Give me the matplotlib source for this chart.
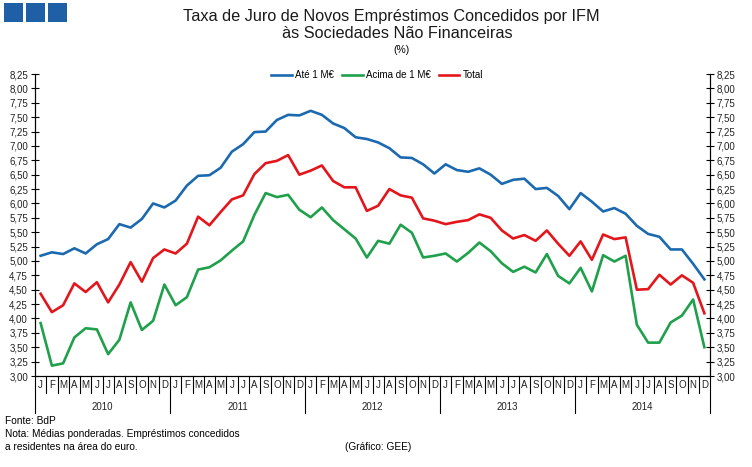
import matplotlib
matplotlib.use("Agg")
import matplotlib.pyplot as plt
import matplotlib.transforms as mtransforms
from matplotlib.patches import Rectangle
from matplotlib.lines import Line2D
import numpy as np

plt.rcParams["font.family"] = ["Liberation Sans", "DejaVu Sans"]

BLUE = "#1B6AB0"
GREEN = "#1FA04B"
RED = "#E3161C"
LOGO = "#1F5FA6"

MONTHS = ["J", "F", "M", "A", "M", "J", "J", "A", "S", "O", "N", "D"]
YEARS = ["2010", "2011", "2012", "2013", "2014"]

# Jan 2010 .. Dec 2014, monthly
ate_1m = [5.09, 5.15, 5.12, 5.22, 5.13, 5.29, 5.38, 5.64, 5.58, 5.73, 6.00, 5.93,
          6.05, 6.31, 6.48, 6.49, 6.62, 6.90, 7.03, 7.24, 7.25, 7.45, 7.54, 7.53,
          7.61, 7.54, 7.39, 7.31, 7.15, 7.12, 7.06, 6.96, 6.80, 6.79, 6.68, 6.52,
          6.68, 6.58, 6.55, 6.61, 6.50, 6.34, 6.41, 6.43, 6.25, 6.27, 6.13, 5.90,
          6.18, 6.03, 5.86, 5.92, 5.82, 5.61, 5.47, 5.42, 5.20, 5.20, 4.95, 4.68]
acima_1m = [3.92, 3.18, 3.22, 3.67, 3.83, 3.81, 3.38, 3.63, 4.28, 3.80, 3.96, 4.59,
            4.23, 4.37, 4.85, 4.89, 5.01, 5.18, 5.34, 5.80, 6.18, 6.11, 6.15, 5.89,
            5.76, 5.93, 5.71, 5.55, 5.39, 5.06, 5.35, 5.30, 5.63, 5.49, 5.06, 5.09,
            5.13, 4.99, 5.14, 5.32, 5.17, 4.96, 4.81, 4.90, 4.80, 5.12, 4.74, 4.61,
            4.88, 4.47, 5.10, 4.99, 5.09, 3.89, 3.58, 3.58, 3.93, 4.05, 4.33, 3.50]
total = [4.43, 4.11, 4.23, 4.61, 4.46, 4.63, 4.28, 4.59, 4.98, 4.64, 5.05, 5.20,
         5.13, 5.30, 5.77, 5.62, 5.85, 6.07, 6.14, 6.51, 6.70, 6.74, 6.84, 6.50,
         6.57, 6.66, 6.39, 6.28, 6.28, 5.87, 5.96, 6.25, 6.14, 6.10, 5.74, 5.70,
         5.64, 5.68, 5.71, 5.81, 5.75, 5.53, 5.39, 5.45, 5.35, 5.53, 5.30, 5.09,
         5.34, 5.02, 5.46, 5.38, 5.41, 4.50, 4.51, 4.76, 4.59, 4.75, 4.62, 4.09]

W, H = 752, 467
fig = plt.figure(figsize=(W / 100, H / 100), dpi=100)

# plot area in pixels: x 35..710, y 74..376
ax = fig.add_axes([35 / W, (H - 376) / H, 675 / W, 302 / H])
x = np.arange(len(total))
ax.plot(x, ate_1m, color=BLUE, lw=1.9, solid_joinstyle="round", zorder=3)
ax.plot(x, acima_1m, color=GREEN, lw=1.9, solid_joinstyle="round", zorder=3)
ax.plot(x, total, color=RED, lw=1.9, solid_joinstyle="round", zorder=4)

ax.set_xlim(-0.5, len(total) - 0.5)
ax.set_ylim(3.0, 8.25)
yticks = np.arange(3.0, 8.26, 0.25)
ylabels = [f"{v:.2f}".replace(".", ",") for v in yticks]
ax.set_yticks(yticks)
ax.set_yticklabels(ylabels)
ax.set_xticks([])
for s in ["left", "right", "bottom"]:
    ax.spines[s].set_color("black")
    ax.spines[s].set_linewidth(0.8)
ax.spines["top"].set_visible(False)
ax.tick_params(axis="y", direction="inout", length=6, width=0.8, labelsize=7,
               pad=2, labelcolor="#222222")

ax2 = ax.twinx()
ax2.set_ylim(ax.get_ylim())
ax2.set_yticks(yticks)
ax2.set_yticklabels(ylabels)
ax2.spines["top"].set_visible(False)
ax2.spines["right"].set_linewidth(0.8)
ax2.tick_params(axis="y", direction="inout", length=6, width=0.8, labelsize=7,
                pad=2, labelcolor="#222222")

# month / year category axis
trans = mtransforms.blended_transform_factory(ax.transData, ax.transAxes)
ah = 302.0
for k in range(len(total) + 1):
    depth = 37 / ah if k % 12 == 0 else 17 / ah
    ax.plot([k - 0.5, k - 0.5], [0, -depth], color="black", lw=0.8,
            transform=trans, clip_on=False)
for i in range(len(total)):
    ax.text(i, -9 / ah, MONTHS[i % 12], transform=trans, ha="center", va="center",
            fontsize=7, color="#222222")
for j, yr in enumerate(YEARS):
    ax.text(j * 12 + 5.5, -31 / ah, yr, transform=trans, ha="center", va="center",
            fontsize=7, color="#222222")

# logo: three blue squares
for x0 in [4, 26, 48]:
    fig.patches.append(Rectangle((x0 / W, 1 - 22 / H), 19 / W, 19 / H, lw=0,
                                 transform=fig.transFigure, facecolor=LOGO))

fig.text(391 / W, 1 - 16 / H, "Taxa de Juro de Novos Empréstimos Concedidos por IFM",
         ha="center", va="center", fontsize=11.7, color="#1a1a1a")
fig.text(397 / W, 1 - 33 / H, "às Sociedades Não Financeiras",
         ha="center", va="center", fontsize=11.7, color="#1a1a1a")
fig.text(402 / W, 1 - 50 / H, "(%)", ha="center", va="center", fontsize=7.5)

handles = [Line2D([], [], color=BLUE, lw=1.9),
           Line2D([], [], color=GREEN, lw=1.9),
           Line2D([], [], color=RED, lw=1.9)]
fig.legend(handles, ["Até 1 M€", "Acima de 1 M€", "Total"], loc="center",
           bbox_to_anchor=(377 / W, 1 - 75 / H), ncol=3, frameon=False, fontsize=7,
           handlelength=2.1, handletextpad=0.3, columnspacing=0.9)

fig.text(5 / W, 1 - 421 / H, "Fonte: BdP", fontsize=7.3, va="center")
fig.text(5 / W, 1 - 434 / H, "Nota: Médias ponderadas. Empréstimos concedidos",
         fontsize=7.3, va="center")
fig.text(5 / W, 1 - 447 / H, "a residentes na área do euro.", fontsize=7.3, va="center")
fig.text(345 / W, 1 - 447 / H, "(Gráfico: GEE)", fontsize=7.3, va="center")

fig.savefig("out.png", dpi=100)
